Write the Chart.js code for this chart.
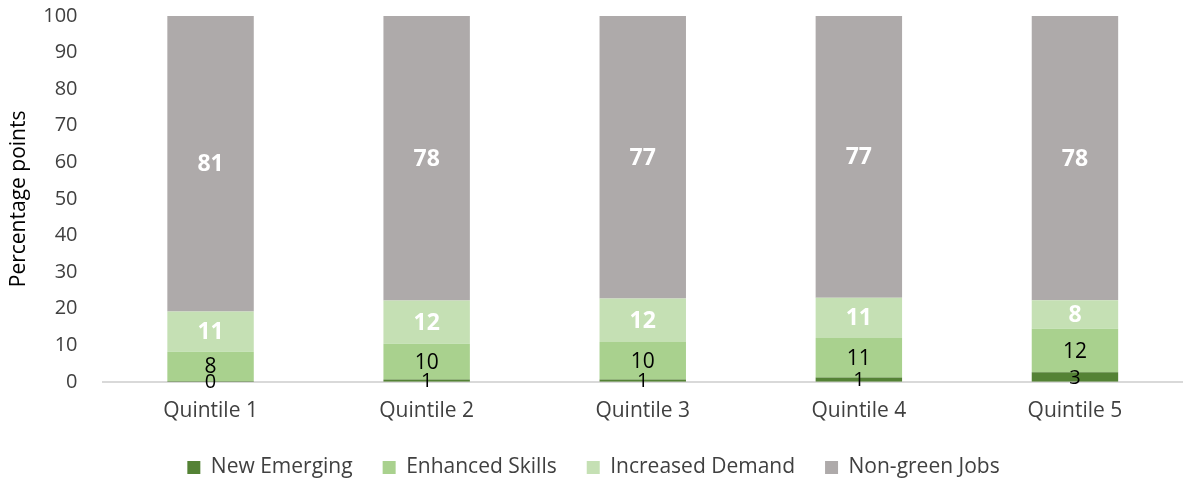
<!DOCTYPE html>
<html lang="en">
<head>
    <meta charset="UTF-8">
    <title>Green jobs by quintile</title>
    <style>
        body { margin: 0; background: #ffffff; }
        #wrap { width: 1183px; height: 481px; position: relative; }
    </style>
</head>
<body>
    <div id="wrap"><canvas id="chart"></canvas></div>

    <script src="https://cdn.jsdelivr.net/npm/chart.js"></script>
    <script>
        // chart values (labels are rounded)
        const quintiles = ['Quintile 1', 'Quintile 2', 'Quintile 3', 'Quintile 4', 'Quintile 5'];
        const newEmerging = [0.2, 0.6, 0.6, 1.2, 2.6];
        const enhancedSkills = [8.0, 9.8, 10.3, 10.8, 11.9];
        const increasedDemand = [11.0, 11.8, 11.9, 11.0, 7.8];
        const nonGreenJobs = [80.8, 77.8, 77.2, 77.0, 77.7];
        const yTicks = [0, 10, 20, 30, 40, 50, 60, 70, 80, 90, 100];

        const FONT = "'Open Sans', sans-serif";

        // simple in-bar value labels (no datalabels plugin available)
        const barLabels = {
            id: 'barLabels',
            afterDatasetsDraw(chart) {
                const ctx = chart.ctx;
                chart.data.datasets.forEach((ds, i) => {
                    const meta = chart.getDatasetMeta(i);
                    if (meta.hidden) return;
                    meta.data.forEach((bar, j) => {
                        const mid = (bar.y + bar.base) / 2;
                        ctx.save();
                        ctx.font = ds.labelFont;
                        ctx.fillStyle = ds.labelColor;
                        ctx.textAlign = 'center';
                        ctx.textBaseline = 'middle';
                        ctx.fillText(Math.round(ds.data[j]), bar.x, mid + 1);
                        ctx.restore();
                    });
                });
            }
        };

        // legend: wide item spacing but a short box, nudged up a bit
        // (only the top moves, the legend clips to its own box)
        const LEGEND_TRIM = 13;
        const LEGEND_LIFT = 6;
        const legendFit = {
            id: 'legendFit',
            beforeInit(chart) {
                const orig = chart.legend.fit;
                chart.legend.fit = function () {
                    orig.call(this);
                    this.height -= LEGEND_TRIM;
                };
            },
            afterLayout(chart) {
                chart.legend.top -= LEGEND_LIFT;
                chart.legend.height += LEGEND_LIFT;
            }
        };

        new Chart(document.getElementById('chart'), {
            type: 'bar',
            data: {
                labels: quintiles,
                datasets: [{
                    label: 'New Emerging',
                    data: newEmerging,
                    backgroundColor: '#548235',
                    labelColor: '#000000',
                    labelFont: '20px ' + FONT
                }, {
                    label: 'Enhanced Skills',
                    data: enhancedSkills,
                    backgroundColor: '#a9d18e',
                    labelColor: '#000000',
                    labelFont: '21px ' + FONT
                }, {
                    label: 'Increased Demand',
                    data: increasedDemand,
                    backgroundColor: '#c5e0b4',
                    labelColor: '#ffffff',
                    labelFont: 'bold 23px ' + FONT
                }, {
                    label: 'Non-green Jobs',
                    data: nonGreenJobs,
                    backgroundColor: '#aeaaaa',
                    labelColor: '#ffffff',
                    labelFont: 'bold 23px ' + FONT
                }]
            },
            options: {
                responsive: true,
                maintainAspectRatio: false,
                animation: false,
                layout: { padding: { top: 0, right: 0, left: 4, bottom: 0 } },
                datasets: {
                    bar: { barPercentage: 0.4, categoryPercentage: 1.0 }
                },
                scales: {
                    x: {
                        stacked: true,
                        grid: { display: false },
                        border: { display: true, color: '#d9d9d9', width: 2 },
                        ticks: { color: '#404040', font: { family: FONT, size: 21 }, padding: 9 }
                    },
                    y: {
                        stacked: true,
                        min: 0,
                        max: 100,
                        afterBuildTicks: axis => { axis.ticks = yTicks.map(v => ({ value: v })); },
                        afterFit: axis => { axis.paddingTop = 16; },
                        grid: { display: false },
                        border: { display: false },
                        ticks: { color: '#404040', font: { family: FONT, size: 20 }, padding: 17 },
                        title: {
                            display: true,
                            text: 'Percentage points',
                            color: '#000000',
                            font: { family: FONT, size: 21 },
                            padding: { top: 2, bottom: -5 }
                        }
                    }
                },
                plugins: {
                    legend: {
                        position: 'bottom',
                        labels: {
                            boxWidth: 13,
                            boxHeight: 13,
                            padding: 30,
                            color: '#404040',
                            font: { family: FONT, size: 21 }
                        }
                    },
                    tooltip: { enabled: false }
                }
            },
            plugins: [barLabels, legendFit]
        });
    </script>
</body>
</html>
